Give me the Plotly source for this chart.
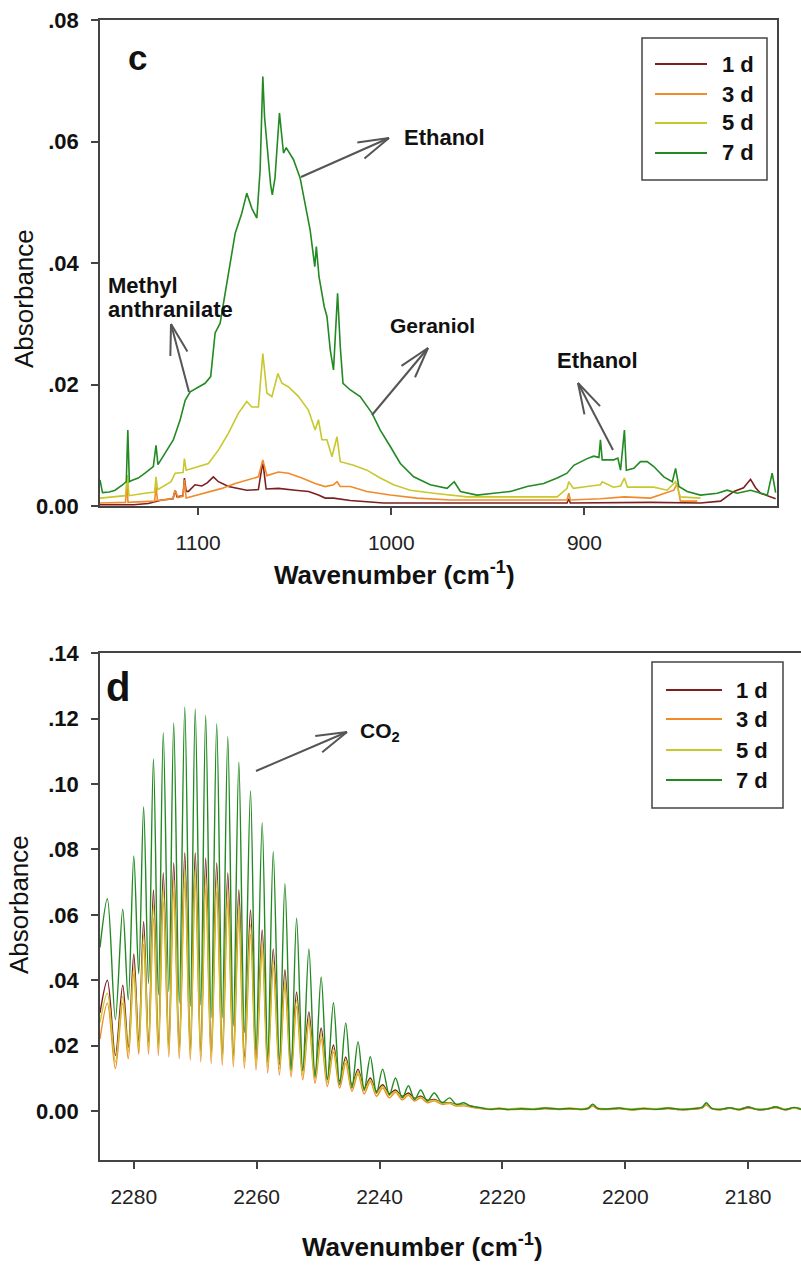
import math
import plotly.graph_objects as go

FIG_W, FIG_H = 801, 1265
FONT = "Liberation Sans, Arial, Helvetica, sans-serif"
AXIS_COLOR = "#444444"
ARROW_COLOR = "#555555"

series_names = ["1 d", "3 d", "5 d", "7 d"]
series_colors = ["#7d1f1f", "#f28a2a", "#c8c82c", "#238a23"]

# ---------------- Panel c : 1150-800 cm-1 ----------------
c_wn_1d = [1150.8, 1133.5, 1125.8, 1118.8, 1113.0, 1111.9, 1110.9, 1107.8, 1107.1, 1106.2,
           1105.0, 1101.6, 1098.1, 1095.3, 1092.1, 1089.5, 1084.3, 1079.1, 1074.8, 1068.8,
           1066.5, 1064.8, 1058.4, 1049.7, 1042.8, 1037.7, 1034.2, 1029.9, 1021.2, 1004.0,
           969.4, 909.0, 908.1, 907.3, 865.8, 839.9, 829.5, 822.6, 817.6, 814.0,
           811.4, 808.8, 801.0]
c_abs_1d = [0.0002, 0.0002, 0.0004, 0.0010, 0.0012, 0.0026, 0.0015, 0.0017, 0.0046, 0.0024,
            0.0024, 0.0035, 0.0033, 0.0038, 0.0048, 0.0040, 0.0032, 0.0029, 0.0026, 0.0027,
            0.0073, 0.0028, 0.0029, 0.0026, 0.0024, 0.0018, 0.0013, 0.0013, 0.0009, 0.0005,
            0.0005, 0.0005, 0.0012, 0.0005, 0.0006, 0.0005, 0.0008, 0.0024, 0.0030, 0.0044,
            0.0030, 0.0021, 0.0012]

c_wn_3d = [1150.8, 1139.5, 1137.6, 1136.9, 1136.3, 1122.5, 1121.8, 1121.0, 1113.0, 1111.9,
           1110.4, 1107.8, 1107.1, 1106.2, 1096.4, 1087.7, 1080.8, 1074.8, 1068.8, 1066.5,
           1064.4, 1058.4, 1053.2, 1046.3, 1039.4, 1034.2, 1029.9, 1028.1, 1026.4, 1021.2,
           1012.6, 1000.5, 986.7, 969.4, 943.5, 914.1, 909.0, 908.1, 907.3, 891.7,
           879.3, 865.8, 853.7, 852.0, 850.3, 841.6]
c_abs_3d = [0.0005, 0.0005, 0.0006, 0.0037, 0.0006, 0.0008, 0.0032, 0.0009, 0.0012, 0.0026,
            0.0014, 0.0016, 0.0043, 0.0013, 0.0021, 0.0029, 0.0037, 0.0043, 0.0048, 0.0076,
            0.0050, 0.0056, 0.0054, 0.0046, 0.0037, 0.0032, 0.0035, 0.0040, 0.0032, 0.0032,
            0.0024, 0.0018, 0.0013, 0.0010, 0.0010, 0.0011, 0.0010, 0.0021, 0.0010, 0.0012,
            0.0015, 0.0013, 0.0026, 0.0037, 0.0008, 0.0008]

c_wn_5d = [1150.8, 1143.0, 1137.6, 1136.6, 1135.8, 1127.5, 1122.5, 1121.8, 1121.0, 1114.0,
           1111.9, 1107.8, 1107.1, 1106.2, 1099.8, 1094.7, 1089.5, 1084.3, 1079.1, 1074.8,
           1072.2, 1068.8, 1066.5, 1064.4, 1061.8, 1058.7, 1056.6, 1053.2, 1048.0, 1042.9,
           1039.4, 1037.7, 1035.9, 1033.3, 1030.7, 1028.1, 1026.4, 1019.5, 1012.6, 1005.7,
           998.8, 990.2, 978.1, 960.8, 914.1, 909.0, 908.1, 905.7, 898.6, 891.7,
           890.8, 885.0, 881.3, 879.3, 877.7, 871.0, 864.1, 857.2, 852.8, 850.3,
           839.9]
c_abs_5d = [0.0013, 0.0015, 0.0017, 0.0051, 0.0017, 0.0021, 0.0023, 0.0048, 0.0027, 0.0040,
            0.0054, 0.0055, 0.0078, 0.0059, 0.0065, 0.0070, 0.0092, 0.0120, 0.0153, 0.0172,
            0.0163, 0.0163, 0.0251, 0.0186, 0.0180, 0.0218, 0.0202, 0.0196, 0.0180, 0.0158,
            0.0125, 0.0142, 0.0109, 0.0109, 0.0081, 0.0114, 0.0073, 0.0067, 0.0059, 0.0046,
            0.0035, 0.0026, 0.0021, 0.0015, 0.0015, 0.0029, 0.0040, 0.0029, 0.0032, 0.0035,
            0.0040, 0.0031, 0.0033, 0.0046, 0.0031, 0.0031, 0.0031, 0.0026, 0.0040, 0.0015,
            0.0013]

c_wn_7d = [1150.8, 1149.5, 1146.0, 1143.0, 1139.0, 1137.2, 1136.4, 1135.6, 1134.4, 1131.0,
           1127.5, 1123.2, 1121.8, 1120.8, 1117.1, 1112.8, 1109.3, 1106.7, 1104.1, 1102.0,
           1099.8, 1096.4, 1093.5, 1091.2, 1088.6, 1086.0, 1083.4, 1080.8, 1077.4, 1074.8,
           1072.2, 1069.6, 1067.9, 1066.5, 1065.6, 1064.4, 1062.5, 1061.6, 1060.2, 1057.9,
           1056.8, 1055.8, 1054.4, 1053.2, 1050.6, 1047.2, 1044.6, 1042.0, 1039.6, 1038.8,
           1037.4, 1034.7, 1033.3, 1031.6, 1029.9, 1027.8, 1026.4, 1025.0, 1021.2, 1016.1,
           1010.0, 1005.7, 1000.5, 995.3, 988.4, 979.8, 971.1, 967.4, 964.2, 955.6,
           947.0, 938.3, 929.7, 921.1, 914.1, 909.0, 905.5, 898.6, 895.2, 892.5,
           891.7, 890.8, 884.8, 882.7, 881.3, 879.3, 878.3, 874.4, 871.0, 867.5,
           864.1, 858.9, 854.5, 852.8, 851.1, 846.8, 839.9, 831.2, 826.1, 820.9,
           814.0, 808.8, 805.3, 802.8, 801.0]
c_abs_7d = [0.0043, 0.0022, 0.0023, 0.0026, 0.0035, 0.0040, 0.0125, 0.0040, 0.0042, 0.0046,
            0.0054, 0.0065, 0.0100, 0.0068, 0.0087, 0.0109, 0.0142, 0.0174, 0.0188, 0.0192,
            0.0196, 0.0202, 0.0213, 0.0285, 0.0301, 0.0350, 0.0405, 0.0449, 0.0482, 0.0515,
            0.0490, 0.0474, 0.0553, 0.0707, 0.0640, 0.0597, 0.0530, 0.0512, 0.0540, 0.0647,
            0.0610, 0.0581, 0.0590, 0.0583, 0.0570, 0.0540, 0.0499, 0.0454, 0.0394, 0.0427,
            0.0377, 0.0328, 0.0312, 0.0257, 0.0224, 0.0350, 0.0262, 0.0202, 0.0191, 0.0180,
            0.0153, 0.0125, 0.0098, 0.0070, 0.0048, 0.0035, 0.0029, 0.0040, 0.0024, 0.0018,
            0.0021, 0.0024, 0.0032, 0.0037, 0.0046, 0.0054, 0.0067, 0.0078, 0.0082, 0.0080,
            0.0109, 0.0076, 0.0076, 0.0079, 0.0059, 0.0125, 0.0059, 0.0062, 0.0073, 0.0073,
            0.0065, 0.0048, 0.0040, 0.0062, 0.0032, 0.0024, 0.0018, 0.0021, 0.0026, 0.0021,
            0.0026, 0.0021, 0.0018, 0.0054, 0.0022]

c_tick_x = [1100, 1000, 900]
c_tick_y = [0.0, 0.02, 0.04, 0.06, 0.08]
c_tick_y_text = ["0.00", ".02", ".04", ".06", ".08"]

# ---------------- Panel d : CO2 band ----------------
co2_start_wn = 2285.5
co2_peak_wn = [2284.3, 2281.8, 2280.0, 2278.4, 2276.8, 2275.2, 2273.5, 2271.7, 2270.0, 2268.3,
               2266.5, 2264.7, 2262.9, 2261.0, 2259.1, 2257.3, 2255.4, 2253.5, 2251.5, 2249.5,
               2247.5, 2245.5, 2243.5, 2241.5, 2239.5, 2237.4, 2235.3, 2233.3, 2231.1, 2228.6,
               2226.3]
co2_trough_wn = [2283.0, 2280.9, 2279.2, 2277.6, 2276.0, 2274.3, 2272.6, 2270.8, 2269.1, 2267.4,
                 2265.6, 2263.8, 2262.0, 2260.1, 2258.2, 2256.3, 2254.4, 2252.5, 2250.5, 2248.5,
                 2246.5, 2244.5, 2242.5, 2240.5, 2238.4, 2236.3, 2234.3, 2232.2, 2229.8, 2227.5,
                 2225.2]
co2_tail_wn = [2223.5, 2222.0, 2220.5, 2219.0, 2217.0, 2215.0, 2213.0, 2211.0, 2209.0, 2207.0,
               2206.0, 2205.3, 2204.5, 2203.0, 2201.0, 2199.0, 2197.0, 2195.0, 2193.0, 2191.0,
               2189.0, 2187.5, 2186.8, 2186.0, 2184.5, 2183.0, 2181.5, 2180.0, 2178.5, 2177.0,
               2175.5, 2174.0, 2172.5, 2171.4]

d_start_1d, d_start_3d, d_start_5d, d_start_7d = 0.030, 0.022, 0.027, 0.050

d_peak_1d = [0.040, 0.0385, 0.048, 0.058, 0.0676, 0.0728, 0.0759, 0.079, 0.079, 0.0774,
             0.0759, 0.0728, 0.0676, 0.0615, 0.0554, 0.0496, 0.0432, 0.0364, 0.0303, 0.0254,
             0.0202, 0.0165, 0.0128, 0.0101, 0.008, 0.0064, 0.0055, 0.0045, 0.0035, 0.0025,
             0.0018]
d_peak_3d = [0.033, 0.033, 0.042, 0.051, 0.059, 0.064, 0.067, 0.070, 0.070, 0.068,
             0.067, 0.064, 0.059, 0.054, 0.049, 0.044, 0.038, 0.032, 0.027, 0.022,
             0.018, 0.0145, 0.0113, 0.009, 0.007, 0.0057, 0.0048, 0.004, 0.0031, 0.0023,
             0.0016]
d_peak_5d = [0.036, 0.035, 0.044, 0.054, 0.063, 0.068, 0.071, 0.074, 0.074, 0.072,
             0.071, 0.068, 0.063, 0.057, 0.052, 0.046, 0.040, 0.034, 0.028, 0.0235,
             0.019, 0.0155, 0.012, 0.0095, 0.0075, 0.006, 0.005, 0.0042, 0.0033, 0.0024,
             0.0017]
d_peak_7d = [0.0649, 0.0617, 0.078, 0.093, 0.1077, 0.1157, 0.1187, 0.1236, 0.123, 0.121,
             0.1185, 0.1145, 0.1068, 0.098, 0.0882, 0.0793, 0.0695, 0.059, 0.0496, 0.041,
             0.0331, 0.0269, 0.0212, 0.0166, 0.0128, 0.0101, 0.0077, 0.0064, 0.0055, 0.004,
             0.0025]

d_trough_1d = [0.017, 0.0195, 0.021, 0.021, 0.0205, 0.020, 0.0195, 0.019, 0.0185, 0.018,
               0.0175, 0.017, 0.0165, 0.016, 0.015, 0.0142, 0.0134, 0.0123, 0.011, 0.0098,
               0.0091, 0.0079, 0.0069, 0.006, 0.0053, 0.0045, 0.0039, 0.0033, 0.0026, 0.002,
               0.0015]
d_trough_3d = [0.013, 0.016, 0.0174, 0.0174, 0.017, 0.0165, 0.016, 0.0155, 0.015, 0.0145,
               0.014, 0.0135, 0.013, 0.0125, 0.0116, 0.011, 0.0104, 0.0095, 0.0085, 0.0075,
               0.007, 0.006, 0.0052, 0.0045, 0.004, 0.0034, 0.003, 0.0025, 0.002, 0.0015,
               0.0012]
d_trough_5d = [0.015, 0.018, 0.0194, 0.0194, 0.019, 0.0185, 0.018, 0.0175, 0.017, 0.0165,
               0.016, 0.0155, 0.015, 0.0145, 0.0135, 0.0128, 0.012, 0.011, 0.0099, 0.0088,
               0.0082, 0.0071, 0.0062, 0.0054, 0.0048, 0.0041, 0.0036, 0.003, 0.0024, 0.0018,
               0.0014]
d_trough_7d = [0.028, 0.034, 0.042, 0.039, 0.0355, 0.0365, 0.033, 0.032, 0.0324, 0.0285,
               0.0285, 0.026, 0.024, 0.0187, 0.0165, 0.0156, 0.0125, 0.0125, 0.0104, 0.0095,
               0.008, 0.007, 0.0064, 0.0055, 0.0049, 0.004, 0.0035, 0.003, 0.0025, 0.002,
               0.0015]

d_tail_1d = [0.0008, 0.0006, 0.0007, 0.0005, 0.0006, 0.0006, 0.0008, 0.0005, 0.0007, 0.0006,
             0.0008, 0.0016, 0.0007, 0.0005, 0.0008, 0.0005, 0.0007, 0.0006, 0.0008, 0.0004,
             0.0006, 0.0010, 0.0020, 0.0008, 0.0004, 0.0009, 0.0005, 0.0012, 0.0004, 0.0005,
             0.0013, 0.0004, 0.0010, 0.0006]
d_tail_3d = [0.0007, 0.0004, 0.0006, 0.0004, 0.0005, 0.0004, 0.0007, 0.0004, 0.0006, 0.0004,
             0.0007, 0.0015, 0.0006, 0.0004, 0.0007, 0.0003, 0.0006, 0.0004, 0.0007, 0.0004,
             0.0005, 0.0009, 0.0018, 0.0007, 0.0003, 0.0008, 0.0003, 0.0009, 0.0004, 0.0005,
             0.0010, 0.0003, 0.0009, 0.0004]
d_tail_5d = [0.0009, 0.0007, 0.0009, 0.0006, 0.0009, 0.0007, 0.0010, 0.0007, 0.0009, 0.0007,
             0.0010, 0.0018, 0.0009, 0.0007, 0.0009, 0.0006, 0.0009, 0.0007, 0.0010, 0.0006,
             0.0008, 0.0011, 0.0021, 0.0009, 0.0006, 0.0010, 0.0006, 0.0011, 0.0006, 0.0007,
             0.0012, 0.0006, 0.0010, 0.0007]
d_tail_7d = [0.0010, 0.0005, 0.0008, 0.0004, 0.0007, 0.0005, 0.0009, 0.0006, 0.0008, 0.0005,
             0.0009, 0.0021, 0.0008, 0.0006, 0.0009, 0.0004, 0.0008, 0.0005, 0.0009, 0.0005,
             0.0007, 0.0012, 0.0025, 0.0009, 0.0005, 0.0010, 0.0004, 0.0011, 0.0005, 0.0006,
             0.0012, 0.0004, 0.0011, 0.0005]

d_tick_x = [2280, 2260, 2240, 2220, 2200, 2180]
d_tick_y = [0.0, 0.02, 0.04, 0.06, 0.08, 0.10, 0.12, 0.14]
d_tick_y_text = ["0.00", ".02", ".04", ".06", ".08", ".10", ".12", ".14"]


def co2_series(start, peaks, troughs, tail):
    xs, ys = [co2_start_wn], [start]
    for pw, pv, tw, tv in zip(co2_peak_wn, peaks, co2_trough_wn, troughs):
        xs += [pw, tw]
        ys += [pv, tv]
    xs += co2_tail_wn
    ys += tail
    return xs, ys


# ---------------- layout helpers (pixel -> paper) ----------------
def PX(x):
    return x / FIG_W


def PY(y):
    return 1 - y / FIG_H


fig = go.Figure()

c_sets = [(c_wn_1d, c_abs_1d), (c_wn_3d, c_abs_3d), (c_wn_5d, c_abs_5d), (c_wn_7d, c_abs_7d)]
for (xs, ys), name, col in zip(c_sets, series_names, series_colors):
    fig.add_trace(go.Scatter(x=xs, y=ys, mode="lines", name=name, showlegend=False,
                             line=dict(color=col, width=1.6), xaxis="x", yaxis="y"))

d_sets = [co2_series(d_start_1d, d_peak_1d, d_trough_1d, d_tail_1d),
          co2_series(d_start_3d, d_peak_3d, d_trough_3d, d_tail_3d),
          co2_series(d_start_5d, d_peak_5d, d_trough_5d, d_tail_5d),
          co2_series(d_start_7d, d_peak_7d, d_trough_7d, d_tail_7d)]
for (xs, ys), name, col in zip(d_sets, series_names, series_colors):
    fig.add_trace(go.Scatter(x=xs, y=ys, mode="lines", name=name, showlegend=False,
                             line=dict(color=col, width=1.4, shape="spline", smoothing=0.9),
                             xaxis="x2", yaxis="y2"))

axis_common = dict(showgrid=False, zeroline=False, showline=True, linecolor=AXIS_COLOR,
                   linewidth=1.5, ticks="outside", ticklen=7, tickwidth=1.5,
                   tickcolor=AXIS_COLOR, automargin=False)

fig.update_layout(
    width=FIG_W, height=FIG_H, template="none",
    margin=dict(l=0, r=0, t=0, b=0),
    paper_bgcolor="white", plot_bgcolor="white",
    font=dict(family=FONT, color="#111111"),
    showlegend=False,
    xaxis=dict(axis_common, domain=[PX(100), PX(777)], range=[1150.8, 800.3],
               tickvals=c_tick_x, mirror=True, anchor="y",
               tickfont=dict(size=21, color="#222222"), ticklabelstandoff=10),
    yaxis=dict(axis_common, domain=[PY(506), PY(20)], range=[0, 0.08],
               tickvals=c_tick_y, ticktext=c_tick_y_text, mirror=True, anchor="x",
               tickfont=dict(size=22, color="#111111", weight="bold"), ticklabelstandoff=8),
    xaxis2=dict(axis_common, domain=[PX(100), 1.0], range=[2285.5, 2171.4],
                tickvals=d_tick_x, mirror=True, anchor="y2",
                tickfont=dict(size=21, color="#222222"), ticklabelstandoff=10),
    yaxis2=dict(axis_common, domain=[PY(1160), PY(653)], range=[-0.015, 0.1401],
                tickvals=d_tick_y, ticktext=d_tick_y_text, mirror=False, anchor="x2",
                tickfont=dict(size=22, color="#111111", weight="bold"), ticklabelstandoff=8),
)

shapes = []
annotations = []


def add_text(text, x, y, size, bold=True, xanchor="left", angle=0, color="#111111"):
    annotations.append(dict(
        text=text, x=PX(x), y=PY(y), xref="paper", yref="paper",
        xanchor=xanchor, yanchor="middle", showarrow=False, textangle=angle,
        font=dict(family=FONT, size=size, color=color, weight="bold" if bold else "normal")))


def add_arrow(tail, tip, head_len=32, half_angle=16):
    (x0, y0), (x1, y1) = tail, tip
    line = dict(color=ARROW_COLOR, width=2)
    shapes.append(dict(type="line", xref="paper", yref="paper",
                       x0=PX(x0), y0=PY(y0), x1=PX(x1), y1=PY(y1), line=line))
    ang = math.atan2(y0 - y1, x0 - x1)
    for s in (1, -1):
        a = ang + s * math.radians(half_angle)
        ex, ey = x1 + head_len * math.cos(a), y1 + head_len * math.sin(a)
        shapes.append(dict(type="line", xref="paper", yref="paper",
                           x0=PX(x1), y0=PY(y1), x1=PX(ex), y1=PY(ey), line=line))


def add_legend(box, line_x, text_x, rows):
    x0, y0, x1, y1 = box
    shapes.append(dict(type="rect", xref="paper", yref="paper",
                       x0=PX(x0), y0=PY(y0), x1=PX(x1), y1=PY(y1),
                       line=dict(color=AXIS_COLOR, width=1.5), fillcolor="white"))
    for name, col, ry in zip(series_names, series_colors, rows):
        shapes.append(dict(type="line", xref="paper", yref="paper",
                           x0=PX(line_x[0]), y0=PY(ry), x1=PX(line_x[1]), y1=PY(ry),
                           line=dict(color=col, width=2)))
        add_text(name, text_x, ry, 22)


# panel c labels
add_text("c", 137, 58, 35, xanchor="center")
add_text("Ethanol", 402, 137, 22)
add_arrow((301, 177), (389, 138))
add_text("Methyl", 106, 285, 22)
add_text("anthranilate", 106, 309, 22)
add_arrow((189, 392), (171, 324))
add_text("Geraniol", 388, 325, 21)
add_arrow((372, 415), (428, 348))
add_text("Ethanol", 555, 360, 22)
add_arrow((613, 450), (578, 383))
add_legend((642, 38, 767, 180), (655, 707), 720, [64, 94, 123, 153])
add_text("Wavenumber (cm<sup>-1</sup>)", 394, 573, 26, xanchor="center")
add_text("Absorbance", 24, 299, 26, bold=False, xanchor="center", angle=-90)

# panel d labels
add_text("d", 118, 687, 40, xanchor="center")
add_text("CO<sub>2</sub>", 358, 732, 21)
add_arrow((256, 771), (347, 732))
add_legend((652, 662, 783, 808), (666, 722), 734, [690, 719, 750, 780])
add_text("Wavenumber (cm<sup>-1</sup>)", 423, 1245, 26, xanchor="center")
add_text("Absorbance", 19, 905, 26, bold=False, xanchor="center", angle=-90)

fig.update_layout(shapes=shapes, annotations=annotations)

fig.write_html("out.html")
